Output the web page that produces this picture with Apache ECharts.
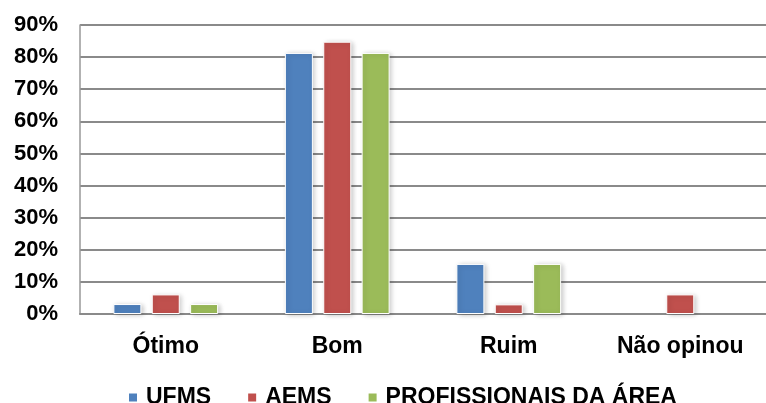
<!DOCTYPE html>
<html><head><meta charset="utf-8">
<script src="https://cdn.jsdelivr.net/npm/echarts@6/dist/echarts.min.js"></script>
<style>html,body{margin:0;padding:0;background:#fff}#c{width:766px;height:403px}</style>
</head><body><div id="c"></div>
<script>
const categories = ['Ótimo', 'Bom', 'Ruim', 'Não opinou'];
const ufms = [3.1, 81.3, 15.6, 0];
const aems = [6.1, 84.8, 3.0, 6.1];
const profissionais = [3.1, 81.3, 15.6, 0];
const seriesNames = ['UFMS', 'AEMS', 'PROFISSIONAIS DA ÁREA'];
const colors = ['#4F81BD', '#C0504D', '#9BBB59'];
const font = 'Liberation Sans, Arial, sans-serif';
const chart = echarts.init(document.getElementById('c'));
const mk = (name, data, color) => ({
  name, type: 'bar', data: data.map(v => v === 0 ? '-' : v), barWidth: 28, barGap: '37%',
  itemStyle: { color, borderColor: '#fff', borderWidth: 1,
    shadowColor: 'rgba(0,0,0,0.22)', shadowBlur: 5, shadowOffsetX: 2, shadowOffsetY: 1 }
});
chart.setOption({
  animation: false,
  grid: { left: 80, width: 699, top: 25, height: 289 },
  legend: {
    top: 381, left: 122, itemWidth: 10, itemHeight: 10, itemGap: 35,
    icon: 'rect',
    textStyle: { fontFamily: font, fontWeight: 'bold', fontSize: 23, color: '#000', padding: [0, 0, 0, 3] },
    data: seriesNames
  },
  xAxis: {
    type: 'category', data: categories,
    axisLine: { lineStyle: { color: '#8A8A8A', width: 2 } },
    axisTick: { show: false },
    axisLabel: { fontFamily: font, fontWeight: 'bold', fontSize: 23, color: '#000', margin: 21 }
  },
  yAxis: {
    type: 'value', min: 0, max: 90, interval: 10,
    axisLine: { show: true, lineStyle: { color: '#999', width: 1.5 } },
    axisTick: { show: false },
    splitLine: { lineStyle: { color: '#8A8A8A', width: 2 } },
    axisLabel: { formatter: '{value}%', fontFamily: font, fontWeight: 'bold', fontSize: 22, color: '#000', margin: 22 }
  },
  series: [mk(seriesNames[0], ufms, colors[0]), mk(seriesNames[1], aems, colors[1]), mk(seriesNames[2], profissionais, colors[2])]
});
</script></body></html>
